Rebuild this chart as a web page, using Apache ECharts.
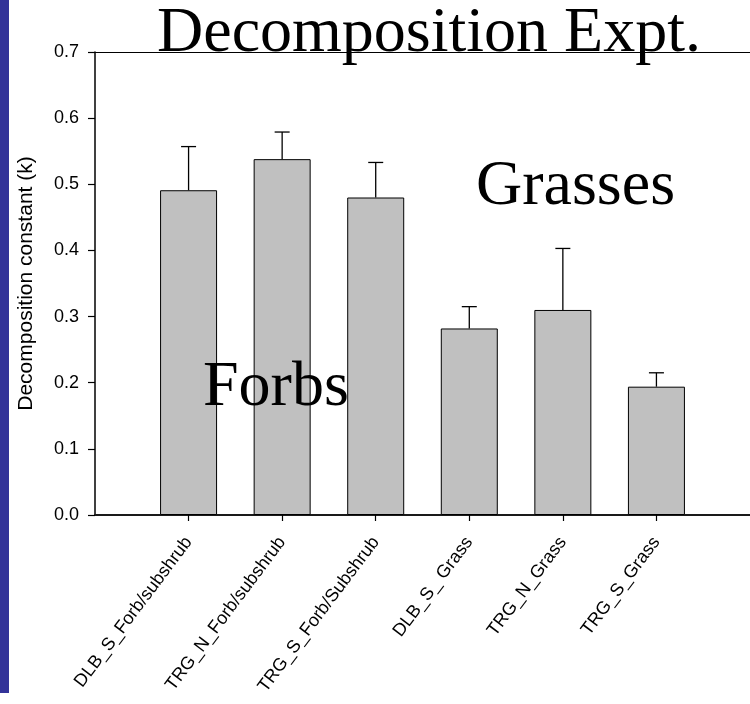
<!DOCTYPE html>
<html>
<head>
<meta charset="utf-8">
<title>Decomposition Expt.</title>
<script src="https://cdn.jsdelivr.net/npm/echarts@6/dist/echarts.min.js"></script>
<style>
  html, body { margin: 0; padding: 0; background: #fff; }
  #chart { width: 750px; height: 704px; }
</style>
</head>
<body>
<div id="chart"></div>
<script>
// Litter groups and their mean decomposition constants (k)
const categories = [
  'DLB_S_Forb/subshrub',
  'TRG_N_Forb/subshrub',
  'TRG_S_Forb/Subshrub',
  'DLB_S_ Grass',
  'TRG_N_Grass',
  'TRG_S_Grass'
];
const meanK = [0.491, 0.538, 0.480, 0.282, 0.310, 0.194];
// upward standard error for each group
const errK = [0.066, 0.041, 0.053, 0.033, 0.093, 0.021];
const yTicks = [0, 0.1, 0.2, 0.3, 0.4, 0.5, 0.6, 0.7];

const positions = categories.map((_, i) => i + 1);
const barData = meanK.map((v, i) => [positions[i], v]);
const errData = meanK.map((v, i) => [positions[i], v, v + errK[i]]);

const sans = 'Liberation Sans, Arial, sans-serif';
const serif = 'Liberation Serif, Times New Roman, serif';

const chart = echarts.init(document.getElementById('chart'), null, { renderer: 'canvas' });

chart.setOption({
  animation: false,
  backgroundColor: '#ffffff',
  grid: { left: 95, top: 52, bottom: 189, right: -7, containLabel: false },
  xAxis: [
    {
      type: 'value',
      min: 0,
      max: categories.length + 1,
      interval: 1,
      splitLine: { show: false },
      axisLine: { show: true, onZero: false, lineStyle: { color: '#1a1a1a', width: 2 } },
      axisTick: {
        show: true, inside: false, length: 6,
        customValues: positions,
        lineStyle: { color: '#000', width: 1.2 }
      },
      axisLabel: {
        show: true,
        customValues: positions,
        formatter: v => categories[Math.round(v) - 1] || '',
        rotate: 53,
        margin: 24,
        fontFamily: sans,
        fontSize: 18,
        color: '#000'
      }
    },
    {
      type: 'value',
      position: 'top',
      min: 0,
      max: categories.length + 1,
      splitLine: { show: false },
      axisLine: { show: true, onZero: false, lineStyle: { color: '#000', width: 1.2 } },
      axisTick: { show: false },
      axisLabel: { show: false }
    }
  ],
  yAxis: {
    type: 'value',
    min: yTicks[0],
    max: yTicks[yTicks.length - 1],
    interval: 0.1,
    splitLine: { show: false },
    axisLine: { show: true, onZero: false, lineStyle: { color: '#000', width: 1.5 } },
    axisTick: { show: true, inside: false, length: 7, lineStyle: { color: '#000', width: 1.2 } },
    axisLabel: {
      formatter: v => v.toFixed(1),
      margin: 16,
      fontFamily: sans,
      fontSize: 18,
      color: '#000'
    },
    name: 'Decomposition constant (k)',
    nameLocation: 'middle',
    nameRotate: 90,
    nameGap: 58,
    nameTextStyle: { fontFamily: sans, fontSize: 21, color: '#000' }
  },
  series: [
    {
      type: 'bar',
      xAxisIndex: 0,
      data: barData,
      barWidth: 57,
      itemStyle: { color: '#c0c0c0', borderColor: '#000', borderWidth: 1 },
      z: 2
    },
    {
      type: 'custom',
      xAxisIndex: 0,
      data: errData,
      z: 3,
      renderItem: (params, api) => {
        const x = api.value(0);
        const base = api.coord([x, api.value(1)]);
        const top = api.coord([x, api.value(2)]);
        const half = 7.5;
        const style = { stroke: '#000', lineWidth: 1.3 };
        return {
          type: 'group',
          children: [
            { type: 'line', shape: { x1: base[0], y1: base[1], x2: top[0], y2: top[1] }, style },
            { type: 'line', shape: { x1: top[0] - half, y1: top[1], x2: top[0] + half, y2: top[1] }, style }
          ]
        };
      }
    }
  ],
  graphic: [
    { type: 'rect', left: 0, top: 0, shape: { width: 9, height: 693 }, style: { fill: '#333399' }, z: 10 },
    {
      type: 'text', left: 157, top: 2, z: 20,
      style: { text: 'Decomposition Expt.', font: '64px ' + serif, fill: '#000' }
    },
    {
      type: 'text', left: 476, top: 155, z: 20,
      style: { text: 'Grasses', font: '64px ' + serif, fill: '#000' }
    },
    {
      type: 'text', left: 203, top: 356, z: 20,
      style: { text: 'Forbs', font: '64px ' + serif, fill: '#000' }
    }
  ]
});
</script>
</body>
</html>
